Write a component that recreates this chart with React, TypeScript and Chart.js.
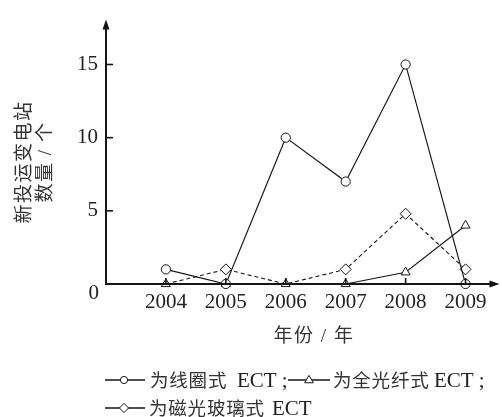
import React, { useEffect, useRef } from 'react';
import { Chart, registerables } from 'chart.js';

Chart.register(...registerables);

// ---- data ----
const years = [2004, 2005, 2006, 2007, 2008, 2009];
const coilECT = [1, 0, 10, 7, 15, 0];
const fiberECT = [0, 0, 0, 0, 0.8, 4];
const glassECT = [0, 1, 0, 1, 4.8, 1];
const yTicks = [0, 5, 10, 15];
const xTitle = '年份 / 年';
const yTitleLines = ['新投运变电站', '数量 / 个'];
const legendNames = ['为线圈式', '为全光纤式', '为磁光玻璃式'];
const legendSuffix = 'ECT';

const SERIF = '"Liberation Serif", "Times New Roman", serif';
const CJK = '"Noto Sans CJK SC", sans-serif';
const MIX = '"Liberation Serif", "Noto Sans CJK SC", serif';
const INK = '#151515';
const TEXT = '#222';
const CJKTEXT = '#333';

function marker(ctx: CanvasRenderingContext2D, style: string, x: number, y: number, r: number) {
  ctx.beginPath();
  if (style === 'circle') {
    ctx.arc(x, y, r, 0, Math.PI * 2);
  } else if (style === 'triangle') {
    ctx.moveTo(x, y - r);
    ctx.lineTo(x + r * 0.95, y + r * 0.6);
    ctx.lineTo(x - r * 0.95, y + r * 0.6);
    ctx.closePath();
  } else {
    ctx.moveTo(x, y - r);
    ctx.lineTo(x + r, y);
    ctx.lineTo(x, y + r);
    ctx.lineTo(x - r, y);
    ctx.closePath();
  }
  ctx.fillStyle = '#fff';
  ctx.fill();
  ctx.stroke();
}

const decor = {
  id: 'decor',
  afterDatasetsDraw(chart: any) {
    const { ctx, chartArea, scales } = chart;
    const xs = scales.x;
    const ys = scales.y;
    const x0 = chartArea.left;
    const y0 = ys.getPixelForValue(0);
    ctx.save();
    ctx.strokeStyle = INK;
    ctx.fillStyle = INK;

    // axes
    ctx.lineWidth = 2;
    ctx.beginPath();
    ctx.moveTo(x0 - 1, y0);
    ctx.lineTo(chartArea.right - 2, y0);
    ctx.stroke();
    ctx.beginPath();
    ctx.moveTo(x0, y0 + 1);
    ctx.lineTo(x0, chartArea.top + 4);
    ctx.stroke();
    // arrows
    ctx.beginPath();
    ctx.moveTo(chartArea.right + 4, y0);
    ctx.lineTo(chartArea.right - 6, y0 - 3.5);
    ctx.lineTo(chartArea.right - 6, y0 + 3.5);
    ctx.closePath();
    ctx.fill();
    ctx.beginPath();
    ctx.moveTo(x0, chartArea.top - 1);
    ctx.lineTo(x0 - 3.5, chartArea.top + 9);
    ctx.lineTo(x0 + 3.5, chartArea.top + 9);
    ctx.closePath();
    ctx.fill();

    // inward ticks
    ctx.lineWidth = 1.6;
    yTicks.forEach((v) => {
      if (v === 0) return;
      const p = ys.getPixelForValue(v);
      ctx.beginPath();
      ctx.moveTo(x0, p);
      ctx.lineTo(x0 + 7, p);
      ctx.stroke();
    });
    years.forEach((yr) => {
      const p = xs.getPixelForValue(yr);
      ctx.beginPath();
      ctx.moveTo(p, y0);
      ctx.lineTo(p, y0 - 6);
      ctx.stroke();
    });

    // zero label
    ctx.fillStyle = TEXT;
    ctx.font = `21px ${SERIF}`;
    ctx.textAlign = 'right';
    ctx.textBaseline = 'middle';
    ctx.fillText('0', x0 - 7, y0 + 9);

    // axis titles
    ctx.fillStyle = CJKTEXT;
    ctx.textAlign = 'center';
    ctx.font = `19px ${MIX}`;
    (ctx as any).letterSpacing = '1.5px';
    ctx.fillText(xTitle, 314, 337);
    (ctx as any).letterSpacing = '1.5px';
    const cols = [25.5, 46];
    yTitleLines.forEach((t, i) => {
      ctx.save();
      ctx.translate(cols[i], 162);
      ctx.rotate(-Math.PI / 2);
      ctx.fillText(t, 0, 0);
      ctx.restore();
    });

    // legend
    const items = [
      { style: 'circle', r: 3.6, x1: 105, x2: 145, mx: 124, y: 380, tx: 150, ex: 237, semi: true },
      { style: 'triangle', r: 4.6, x1: 288, x2: 330, mx: 309, y: 380, tx: 333, ex: 434, semi: true },
      { style: 'diamond', r: 4.6, x1: 105, x2: 145, mx: 124, y: 408, tx: 149, ex: 272, semi: false },
    ];
    items.forEach((it, i) => {
      ctx.strokeStyle = INK;
      ctx.lineWidth = 1.6;
      ctx.beginPath();
      ctx.moveTo(it.x1, it.y);
      ctx.lineTo(it.x2, it.y);
      ctx.stroke();
      ctx.lineWidth = 1;
      marker(ctx, it.style, it.mx, it.y, it.r);
      ctx.textAlign = 'left';
      ctx.textBaseline = 'middle';
      ctx.fillStyle = CJKTEXT;
      ctx.font = `18.5px ${CJK}`;
      (ctx as any).letterSpacing = '0.8px';
      ctx.fillText(legendNames[i], it.tx, it.y);
      (ctx as any).letterSpacing = '0px';
      ctx.fillStyle = TEXT;
      ctx.font = `21px ${SERIF}`;
      ctx.fillText(legendSuffix, it.ex, it.y + 1);
      if (it.semi) {
        const w = ctx.measureText(legendSuffix).width;
        ctx.fillText(';', it.ex + w + 5, it.y + 1);
      }
    });
    ctx.restore();
  },
};

function pts(vals: number[]) {
  return years.map((yr, i) => ({ x: yr, y: vals[i] }));
}

export default function App() {
  const ref = useRef<HTMLCanvasElement | null>(null);
  useEffect(() => {
    if (!ref.current) return;
    const common = {
      borderColor: INK,
      borderWidth: 1.1,
      pointBorderColor: INK,
      pointBackgroundColor: '#fff',
      pointBorderWidth: 1,
      tension: 0,
      clip: false as any,
      fill: false,
    };
    const chart = new Chart(ref.current, {
      type: 'line',
      data: {
        datasets: [
          { ...common, label: legendNames[0], data: pts(coilECT), pointStyle: 'circle', pointRadius: 4.6 },
          { ...common, label: legendNames[1], data: pts(fiberECT), pointStyle: 'triangle', pointRadius: 5.2 },
          {
            ...common,
            label: legendNames[2],
            data: pts(glassECT),
            pointStyle: 'rectRot',
            pointRadius: glassECT.map((v) => (v === 0 ? 0 : 5.5)),
            borderDash: [4, 3],
          },
        ],
      },
      options: {
        responsive: false,
        animation: false,
        events: [],
        layout: { padding: { top: 13, right: 5, left: 0, bottom: 0 } },
        plugins: { legend: { display: false }, tooltip: { enabled: false }, title: { display: false } },
        scales: {
          x: {
            type: 'linear',
            min: 2003,
            max: 2009.5,
            grid: { display: false, drawTicks: false },
            border: { display: false },
            ticks: {
              font: { family: SERIF, size: 21 },
              color: TEXT,
              padding: 6,
              maxRotation: 0,
              autoSkip: false,
              callback: (v: any) => String(v),
            },
            afterBuildTicks: (s: any) => {
              s.ticks = years.map((v) => ({ value: v }));
            },
            afterFit: (s: any) => {
              s.height = 133;
            },
          },
          y: {
            type: 'linear',
            min: 0,
            max: 18,
            grid: { display: false, drawTicks: false },
            border: { display: false },
            ticks: {
              font: { family: SERIF, size: 21 },
              color: TEXT,
              padding: 8,
              callback: (v: any) => (v === 0 ? '' : String(v)),
            },
            afterBuildTicks: (s: any) => {
              s.ticks = yTicks.map((v) => ({ value: v }));
            },
            afterFit: (s: any) => {
              s.width = 106;
            },
          },
        },
      },
      plugins: [decor],
    });
    return () => chart.destroy();
  }, []);
  return (
    <canvas
      ref={ref}
      width={502}
      height={417}
      style={{ position: 'fixed', left: 0, top: 0, width: 502, height: 417, background: '#fff' }}
    />
  );
}
